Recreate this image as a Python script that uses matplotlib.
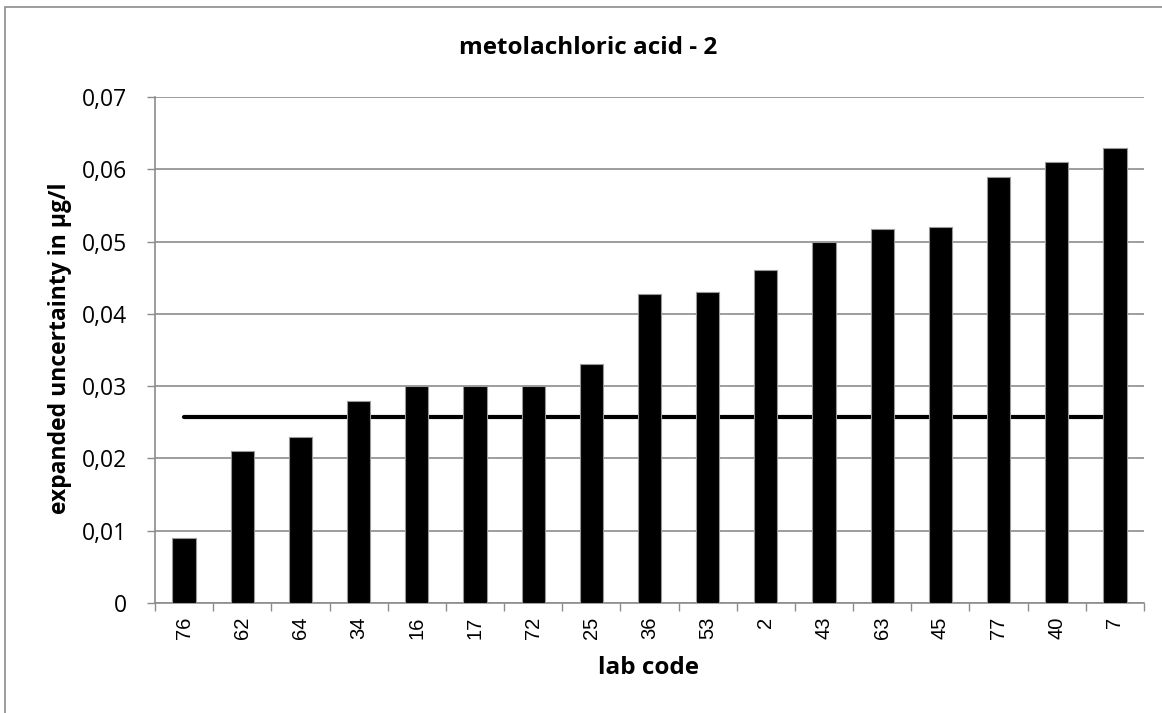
import matplotlib
matplotlib.use("Agg")
import matplotlib.pyplot as plt
import numpy as np
from matplotlib.patches import Rectangle

lab_codes = ["76", "62", "64", "34", "16", "17", "72", "25", "36", "53", "2",
             "43", "63", "45", "77", "40", "7"]
uncertainty = [0.009, 0.021, 0.023, 0.028, 0.030, 0.030, 0.030, 0.033, 0.0428,
               0.043, 0.046, 0.050, 0.0518, 0.052, 0.059, 0.061, 0.063]
reference_level = 0.0257
y_ticks = [0, 0.01, 0.02, 0.03, 0.04, 0.05, 0.06, 0.07]
y_tick_labels = ["0", "0,01", "0,02", "0,03", "0,04", "0,05", "0,06", "0,07"]

W, H = 1162, 713
fig = plt.figure(figsize=(W / 100, H / 100), dpi=100)
fig.patches.append(Rectangle((5 / W, -0.1), 1.2, (H - 7) / H + 0.1,
                             transform=fig.transFigure, fill=False,
                             edgecolor="#8c8c8c", linewidth=1.2))
ax = fig.add_axes([155 / W, 1 - 603 / H, (1144 - 155) / W, (603 - 97) / H])

x = np.arange(len(lab_codes))
ax.bar(x, uncertainty, width=0.4, color="black", edgecolor="#999999",
       linewidth=0.8, zorder=3)
ax.plot([x[0], x[-1]], [reference_level, reference_level], color="black",
        linewidth=3, solid_capstyle="round", zorder=2)

ax.set_xlim(-0.5, len(lab_codes) - 0.5)
ax.set_ylim(0, 0.07)
ax.set_yticks(y_ticks)
ax.set_yticklabels(y_tick_labels, fontsize=16.5, family="Open Sans")
ax.set_xticks(x)
ax.set_xticklabels(lab_codes, rotation=90, fontsize=14.5, family="Liberation Sans")
ax.set_xticks(np.arange(-0.5, len(lab_codes)), minor=True)
ax.tick_params(axis="x", which="major", length=0, pad=10)
ax.tick_params(axis="x", which="minor", length=6, color="#8c8c8c", width=1)
ax.tick_params(axis="y", length=6, color="#8c8c8c", width=1, pad=14)

ax.grid(axis="y", color="#8c8c8c", linewidth=1.2, zorder=0)
ax.set_axisbelow(True)
for s in ["top", "right"]:
    ax.spines[s].set_visible(False)
for s in ["left", "bottom"]:
    ax.spines[s].set_color("#8c8c8c")
    ax.spines[s].set_linewidth(1.2)

fig.text(588 / W, 1 - 48 / H, "metolachloric acid - 2", fontsize=17.5,
         fontweight="bold", family="Open Sans", ha="center", va="center")
fig.text(648 / W, 1 - 668 / H, "lab code", fontsize=17.5, fontweight="bold",
         family="Open Sans", ha="center", va="center")
fig.text(60 / W, 1 - 348 / H, "expanded uncertainty in µg/l", fontsize=16.5,
         fontweight="bold", family="Open Sans", ha="center", va="center",
         rotation=90)

fig.savefig("out.png", dpi=100)
